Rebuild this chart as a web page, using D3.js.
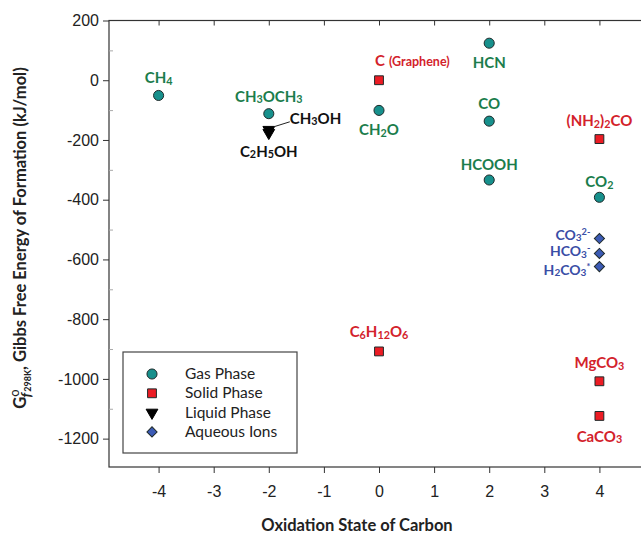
<!DOCTYPE html>
<html>
<head>
<meta charset="utf-8">
<script src="https://cdn.jsdelivr.net/npm/d3@7.9.0/dist/d3.min.js"></script>
<style>
  body { margin: 0; background: #fff; }
  svg { display: block; }
  .tick text { font-family: "Liberation Sans", Arial, sans-serif; font-size: 16px; fill: #222; }
  .lbl { font-family: Lato, "Open Sans", sans-serif; font-weight: bold; font-size: 15px; }
</style>
</head>
<body>
<svg width="641" height="538"></svg>
<script>
// compounds: name written with {sub} and [sup]
const names = ["CH{4}", "CH{3}OCH{3}", "CH{2}O", "HCN", "CO", "HCOOH", "CO{2}",
  "C", "(NH{2}){2}CO", "C{6}H{12}O{6}", "MgCO{3}", "CaCO{3}",
  "CH{3}OH", "C{2}H{5}OH",
  "CO{3}[2-]", "HCO{3}[-]", "H{2}CO{3}[*]"];
const oxidation = [-4, -2, 0, 2, 2, 2, 4, 0, 4, 0, 4, 4, -2, -2, 4, 4, 4];
const energy = [-51, -112, -101, 124, -137, -334, -392, 0, -197, -908, -1008, -1124, -166, -176, -530, -580, -624];
const phase = ["gas", "gas", "gas", "gas", "gas", "gas", "gas",
  "solid", "solid", "solid", "solid", "solid",
  "liquid", "liquid", "aq", "aq", "aq"];

const phaseNames = ["Gas Phase", "Solid Phase", "Liquid Phase", "Aqueous Ions"];
const phaseKeys = ["gas", "solid", "liquid", "aq"];
const xTicks = [-4, -3, -2, -1, 0, 1, 2, 3, 4];
const yMajor = [200, 0, -200, -400, -600, -800, -1000, -1200];

const fill = { gas: "#17908c", solid: "#ec1c24", liquid: "#000", aq: "#3c5bb5" };
const textCol = { gas: "#1b7d4c", solid: "#d3222b", liquid: "#111", aq: "#3a4ea6" };

// label placement (dx, dy of baseline, anchor) relative to the point
const place = {
  "CH{4}": [0, -12, "middle"],
  "CH{3}OCH{3}": [0, -12, "middle"],
  "CH{2}O": [0, 25, "middle"],
  "HCN": [0, 25, "middle"],
  "CO": [0, -12, "middle"],
  "HCOOH": [0, -10, "middle"],
  "CO{2}": [0, -10, "middle"],
  "C": [-4, -14, "start"],
  "(NH{2}){2}CO": [0, -13, "middle"],
  "C{6}H{12}O{6}": [0, -14, "middle"],
  "MgCO{3}": [0, -13, "middle"],
  "CaCO{3}": [0, 26, "middle"],
  "CH{3}OH": [21, -6, "start"],
  "C{2}H{5}OH": [0, 24, "middle"],
  "CO{3}[2-]": [-9, 1, "end"],
  "HCO{3}[-]": [-9, 3, "end"],
  "H{2}CO{3}[*]": [-9, 8, "end"]
};

const svg = d3.select("svg");
const x = d3.scaleLinear().domain([-4.9, 4.9]).range([109, 649]);
const y = d3.scaleLinear().domain([-1295, 200]).range([467, 20.5]);

// frame
svg.append("rect").attr("x", x(-4.9)).attr("y", y(200))
  .attr("width", x(4.9) - x(-4.9)).attr("height", y(-1295) - y(200))
  .attr("fill", "none").attr("stroke", "#333").attr("stroke-width", 1.2);

const axBottom = svg.append("g").attr("transform", `translate(0,${y(-1295)})`)
  .call(d3.axisBottom(x).tickValues(xTicks).tickSize(6).tickPadding(10).tickFormat(d => String(d)));
const axTop = svg.append("g").attr("transform", `translate(0,${y(200)})`)
  .call(d3.axisBottom(x).tickValues(xTicks).tickSize(5).tickFormat(""));
const axLeft = svg.append("g").attr("transform", `translate(${x(-4.9)},0)`)
  .call(d3.axisLeft(y).tickValues(yMajor).tickSize(6).tickPadding(4).tickFormat(d => String(d)));
const axLeftMinor = svg.append("g").attr("transform", `translate(${x(-4.9)},0)`)
  .call(d3.axisRight(y).tickValues(d3.range(100, -1295, -200)).tickSize(4).tickFormat(""));
const axRight = svg.append("g").attr("transform", `translate(${x(4.9)},0)`)
  .call(d3.axisLeft(y).tickValues(d3.range(200, -1295, -100)).tickSize(6).tickFormat(""));
[axBottom, axTop, axLeft, axLeftMinor, axRight].forEach(g => {
  g.select(".domain").remove();
  g.selectAll(".tick line").attr("stroke", "#333");
});
axLeftMinor.selectAll(".tick line").attr("stroke", "#aaa");
axRight.selectAll(".tick line").attr("stroke", "#bbb");
axBottom.selectAll(".tick text").attr("dy", "0.9em");

// formula text helper: {..} subscript, [..] superscript
function formula(sel, str, size) {
  const parts = str.match(/\{[^}]*\}|\[[^\]]*\]|[^{\[]+/g);
  let shift = 0;
  parts.forEach(p => {
    let t = sel.append("tspan");
    let target = 0, txt = p, fs = size;
    if (p[0] === "{") { txt = p.slice(1, -1); target = 1.5; fs = size * 0.72; }
    else if (p[0] === "[") { txt = p.slice(1, -1); target = -5; fs = size * 0.66; }
    t.attr("dy", target - shift).attr("font-size", fs).text(txt);
    shift = target;
  });
}

// points
const sym = {
  gas: d3.symbol(d3.symbolCircle, 80),
  solid: d3.symbol(d3.symbolSquare, 78),
  liquid: d3.symbol(d3.symbolTriangle, 60),
  aq: d3.symbol(d3.symbolSquare, 52)
};
function drawSym(g, key, px, py) {
  const rot = key === "liquid" ? " rotate(180)" : key === "aq" ? " rotate(45)" : "";
  g.append("path").attr("d", sym[key]())
    .attr("transform", `translate(${px},${py})` + rot)
    .attr("fill", fill[key])
    .attr("stroke", key === "liquid" ? "#000" : "#1f2a2a").attr("stroke-width", 1);
}

const pts = svg.append("g");
names.forEach((n, i) => drawSym(pts, phase[i], x(oxidation[i]), y(energy[i])));

// labels
names.forEach((n, i) => {
  const [dx, dy, anchor] = place[n];
  const t = svg.append("text").attr("class", "lbl")
    .attr("x", x(oxidation[i]) + dx).attr("y", y(energy[i]) + dy)
    .attr("text-anchor", anchor).attr("fill", textCol[phase[i]]);
  formula(t, n, phase[i] === "aq" ? 14 : 15);
  if (n === "C") t.append("tspan").attr("font-size", 12.5).attr("dx", 4).text("(Graphene)");
});

// leader line for CH3OH
const iMe = names.indexOf("CH{3}OH");
svg.append("line")
  .attr("x1", x(oxidation[iMe]) + 5).attr("y1", y(energy[iMe]) - 3)
  .attr("x2", x(oxidation[iMe]) + 21).attr("y2", y(energy[iMe]) - 8)
  .attr("stroke", "#222").attr("stroke-width", 1);

// legend
const lg = svg.append("g").attr("transform", "translate(123,352)");
lg.append("rect").attr("width", 174).attr("height", 101)
  .attr("fill", "#fff").attr("stroke", "#444").attr("stroke-width", 1.2);
phaseKeys.forEach((k, i) => {
  drawSym(lg, k, 29, 22 + i * 19.3);
  lg.append("text").attr("x", 62).attr("y", 22 + i * 19.3 + 5)
    .attr("font-family", "Lato, 'Open Sans', sans-serif").attr("font-size", 15.5)
    .attr("fill", "#222").text(phaseNames[i]);
});

// axis titles
svg.append("text").attr("x", 357).attr("y", 531).attr("text-anchor", "middle")
  .attr("font-family", "Lato, 'Open Sans', sans-serif").attr("font-weight", "bold")
  .attr("font-size", 16.5).attr("fill", "#222").text("Oxidation State of Carbon");

const yt = svg.append("text").attr("transform", "translate(26,238) rotate(-90)")
  .attr("text-anchor", "middle")
  .attr("font-family", "Lato, 'Open Sans', sans-serif").attr("font-weight", "bold")
  .attr("font-size", 16.5).attr("fill", "#222");
yt.append("tspan").text("G");
yt.append("tspan").attr("dy", -7).attr("font-size", 13).attr("font-weight", "normal").text("o");
yt.append("tspan").attr("dy", 12).attr("dx", -8).attr("font-size", 14).attr("font-style", "italic").text("f");
yt.append("tspan").attr("font-size", 9).attr("dx", 1).text("298K");
yt.append("tspan").attr("dy", -5).text(", Gibbs Free Energy of Formation (kJ/mol)");
</script>
</body>
</html>
